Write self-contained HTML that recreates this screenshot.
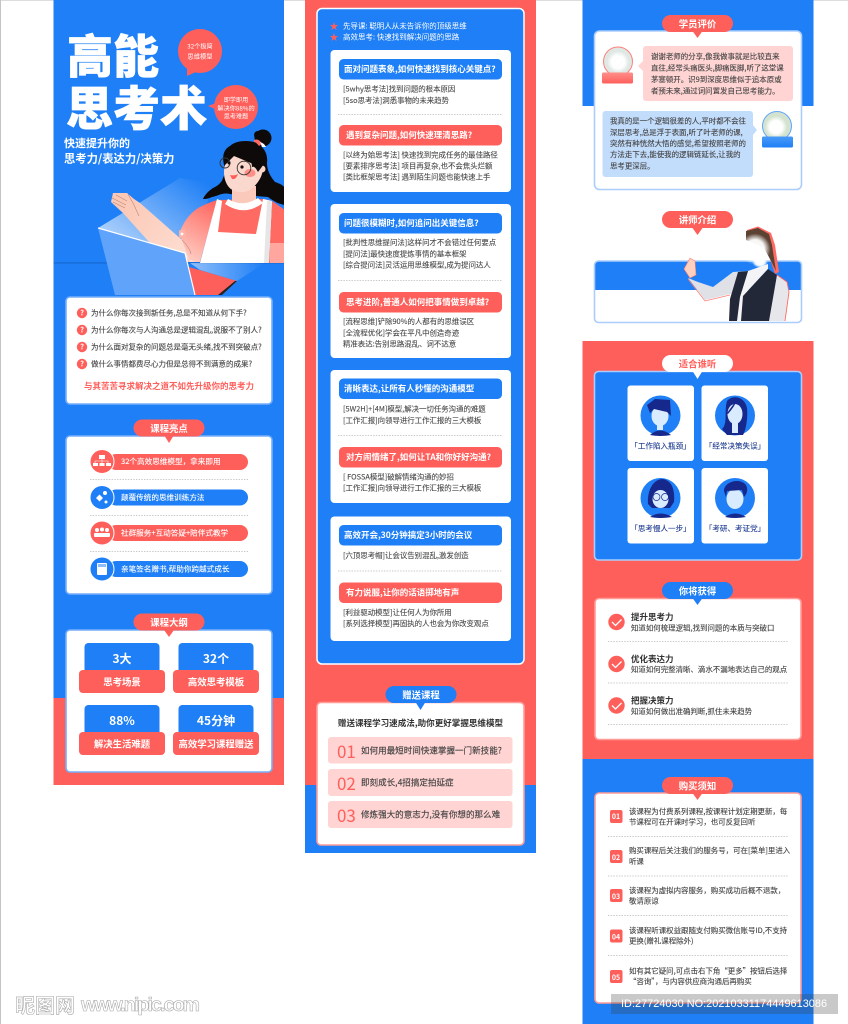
<!DOCTYPE html>
<html lang="zh"><head><meta charset="utf-8"><title>高能思考术</title>
<style>
html,body{margin:0;padding:0;background:#fff;width:848px;height:1024px;overflow:hidden}
svg{display:block}
text{font-family:"Noto Sans CJK SC","Liberation Sans",sans-serif;dominant-baseline:central}
.w{fill:#fff}.b{font-weight:700}.m{text-anchor:middle}
.q{font-size:7.5px;fill:#444;stroke:#444;stroke-width:.12}
.l{font-size:7.42px;fill:#484848;stroke:#484848;stroke-width:.1}
.h{font-size:8.5px;fill:#fff;font-weight:700}
.p{font-size:9.4px;fill:#fff;font-weight:700;text-anchor:middle}
.r{font-size:7.6px;fill:#fff;stroke:#fff;stroke-width:.12}
.s{font-size:9.4px;fill:#fff;font-weight:700;text-anchor:middle}
.n{font-size:12px;fill:#fff;font-weight:700;text-anchor:middle}
.t{font-size:7.45px;fill:#444;stroke:#444;stroke-width:.12}
.d{stroke:#bbb;stroke-width:.7;stroke-dasharray:1.5 1.2;fill:none}
.c{font-size:7.55px;fill:#1b3a8f;text-anchor:middle;stroke:#1b3a8f;stroke-width:.1}
.y{font-size:17px;fill:#ff5f5b}
.g{font-size:8.55px;fill:#444;stroke:#444;stroke-width:.14}
.card{fill:#fff;stroke:#76aff9;stroke-width:1.6}
.card2{fill:#fff;stroke:#ff9c98;stroke-width:1.6}
.cardb{fill:#fff;stroke:#aacdfc;stroke-width:1.6}
.tile{fill:#fff}
.nv{fill:#16288c}.fc{fill:#d8ebff}
</style></head><body>
<svg width="848" height="1024" viewBox="0 0 848 1024" xmlns="http://www.w3.org/2000/svg">
<defs>
<linearGradient id="beam" gradientUnits="userSpaceOnUse" x1="130" y1="250" x2="190" y2="170"><stop offset="0" stop-color="#fff" stop-opacity=".62"/><stop offset="1" stop-color="#fff" stop-opacity="0"/></linearGradient>
<linearGradient id="beam2" x1="0" y1="0" x2="1" y2="0"><stop offset="0" stop-color="#fff" stop-opacity=".5"/><stop offset="1" stop-color="#fff" stop-opacity="0"/></linearGradient>
<linearGradient id="arm" gradientUnits="userSpaceOnUse" x1="215" y1="205" x2="185" y2="255"><stop offset="0" stop-color="#ff6a63"/><stop offset="1" stop-color="#ffc9bf"/></linearGradient>
<linearGradient id="skin" gradientUnits="userSpaceOnUse" x1="125" y1="200" x2="195" y2="262"><stop offset="0" stop-color="#fcc8b6"/><stop offset="1" stop-color="#fde0d5"/></linearGradient>
<linearGradient id="rg" x1="0" y1="0" x2="0" y2="1"><stop offset="0" stop-color="#ff8f8b"/><stop offset="1" stop-color="#ff5f5b"/></linearGradient>
<linearGradient id="bg" x1="0" y1="0" x2="0" y2="1"><stop offset="0" stop-color="#4a9af8"/><stop offset="1" stop-color="#1e7ff6"/></linearGradient>
<radialGradient id="blur"><stop offset="0" stop-color="#fff"/><stop offset=".6" stop-color="#fff" stop-opacity=".95"/><stop offset="1" stop-color="#fff" stop-opacity="0"/></radialGradient>
<clipPath id="c1"><rect x="53" y="0" width="231" height="296"/></clipPath>
</defs>

<rect x="0" y="0" width="848" height="1" fill="#ddd"/>
<rect x="0" y="0" width="1" height="1024" fill="#c4c4c4"/>

<!-- ============ COLUMN 1 ============ -->
<rect x="53.5" y="0" width="230.5" height="698" fill="#1e7ff6"/>
<rect x="53.5" y="698" width="230.5" height="87" fill="#ff5f5b"/>
<rect x="53.5" y="262.5" width="230.5" height=".9" fill="#1462c4"/>

<text x="67" y="54" class="w b" style="font-size:46px;font-weight:900" stroke="#fff" stroke-width=".7">高能</text>
<text x="66" y="105" class="w b" style="font-size:47px;font-weight:900" stroke="#fff" stroke-width=".7">思考术</text>

<circle cx="200" cy="51" r="22" fill="#ff5f5b"/><path d="M187 66L187 76L198 71Z" fill="#ff5f5b"/>
<text x="200" y="46" class="w m" style="font-size:6.2px">32个极简</text>
<text x="200" y="56" class="w m" style="font-size:6.3px">思维模型</text>
<circle cx="236" cy="107" r="22" fill="#ff5f5b"/><path d="M216 103L208 106L217 110Z" fill="#ff5f5b"/>
<text x="236" y="99.5" class="w m" style="font-size:6.1px">即学即用</text>
<text x="236" y="108" class="w m" style="font-size:6.2px">解决你88%的</text>
<text x="236" y="116" class="w m" style="font-size:6.1px">思考难题</text>

<text x="64" y="143" class="w b" style="font-size:11px">快速提升你的</text>
<text x="64" y="158.5" class="w b" style="font-size:11.3px">思考力/表达力/决策力</text>

<g clip-path="url(#c1)">
<polygon points="98,228 180,178 213,183 190,262" fill="url(#beam)"/>
<polygon points="190,263 265,263 237,281 200,270" fill="url(#beam2)"/>
<!-- hair back -->
<path d="M225 168C222 160 222 150 230 146C236 140 250 140 257 143C265 148 268 155 267 163C267 170 270 176 275 182C281 184 285 186 285 190V205C278 204 272 200 268 197L230 194C222 192 218 196 212 197C208 199 205 199 203 199C205 194 210 190 213 188C218 186 222 182 223 178C225 174 226 171 225 168Z" fill="#0e0a0a"/>
<circle cx="263" cy="138" r="8.5" fill="#0e0a0a"/><circle cx="258" cy="135" r="4" fill="#0e0a0a"/>
<path d="M254 140Q259 138 262 144L259 146Q256 142 254 142Z" fill="#ff6a63"/>
<path d="M260 142Q264 143 266 147L262 147Z" fill="#fff"/>
<!-- right arm -->
<path d="M272 201L285 210V263H269Z" fill="#ff6a63"/><rect x="270" y="243" width="15" height="20" fill="#ffa79f"/>
<!-- torso -->
<path d="M217 200L264 199L272 201L269 263H200Z" fill="#ff6a63"/>
<path d="M217 200C205 204 197 208 193 212C186 218 182 226 180 232L186 262H200Z" fill="url(#arm)"/>
<!-- neck / collar -->
<path d="M232 186H256V204Q244 210 232 204Z" fill="#fbc9bc"/>
<path d="M228 199Q243 208 258 198L263 203Q244 217 225 204Z" fill="#fff"/>
<!-- apron -->
<path d="M200 263L217 199L222 201L218 232L256 234L263 199L272 201L269 263Z" fill="#fff"/>
<path d="M267 201L272 201L269 263H264Z" fill="#e6e6e6"/>
<!-- face -->
<path d="M225 165L234 156L258 166L263 167C263 176 258 184 250 190C242 194 232 192 228 186C224 180 223 172 225 165Z" fill="#fbd8ce"/>
<circle cx="262" cy="169" r="3.5" fill="#fbd4ca"/>
<path d="M224 162C226 150 238 144 250 146C260 148 266 156 264 164L258 172C256 168 254 166 252 167C252 160 248 156 242 154C236 152 228 158 224 166Z" fill="#0e0a0a"/>
<ellipse cx="250" cy="173" rx="5.5" ry="4" fill="#ff8f86"/>
<circle cx="244" cy="168" r="6.8" fill="none" stroke="#333" stroke-width=".9"/>
<circle cx="225" cy="163" r="5" fill="none" stroke="#333" stroke-width=".9"/>
<circle cx="242" cy="167" r="1.6" fill="#111"/><circle cx="229" cy="163" r="1.5" fill="#111"/>
<path d="M230 175Q235 176 238 174Q236 180 232 179Z" fill="#ff5f5b"/>
<!-- hand + forearm -->
<path d="M111 202L113 193L127 193L134 199L140 203L182 240L190 262H195L150 243L123 213Z" fill="url(#skin)"/>
<path d="M112 198L126 205M113 202L125 208M116 195L127 201M128 194L134 205L139 216" stroke="#a87464" stroke-width=".5" fill="none"/>
<rect x="179" y="230" width="6" height="8" rx="1.5" fill="#ffb3a8"/><circle cx="182" cy="234" r="1.4" fill="#fff"/>
<path d="M182 240Q190 248 191 254" stroke="#a87464" stroke-width=".5" fill="none"/>
<!-- keyboard -->
<polygon points="189,267 237,281 222,295 194,295" fill="#ff5f5b"/>
<path d="M237 281L222 295H218L235 281Z" fill="#222"/>
<!-- laptop -->
<polygon points="98,228 185,253 195,295 115,295" fill="#5fa3fb"/>
<path d="M98 228L185 253L195 295" fill="none" stroke="#fff" stroke-width="1.2"/>
</g>

<!-- card 1 -->
<rect x="66" y="297" width="206" height="107" rx="4" class="card"/>
<g fill="#ff5f5b"><circle cx="82" cy="313" r="5.2"/><circle cx="82" cy="330" r="5.2"/><circle cx="82" cy="347" r="5.2"/><circle cx="82" cy="364" r="5.2"/></g>
<g class="w b" style="font-size:7.5px" text-anchor="middle"><text x="82" y="313">?</text><text x="82" y="330">?</text><text x="82" y="347">?</text><text x="82" y="364">?</text></g>
<text x="91" y="313" class="q">为什么你每次接到新任务,总是不知道从何下手?</text>
<text x="91" y="330" class="q">为什么你每次与人沟通总是逻辑混乱,说服不了别人?</text>
<text x="91" y="347" class="q">为什么面对复杂的问题总是毫无头绪,找不到突破点?</text>
<text x="91" y="364" class="q">做什么事情都费尽心力但是总得不到满意的成果?</text>
<text x="169" y="386" class="m b" style="font-size:8.5px;fill:#ff5f5b">与其苦苦寻求解决之道不如先升级你的思考力</text>

<!-- card 2 -->
<rect x="66" y="436" width="206" height="158" rx="4" class="card"/>
<path d="M164 435L174 435L169 443Z" fill="#ff5f5b"/><rect x="133.5" y="419.5" width="71" height="17" rx="8.5" fill="#ff5f5b"/>
<text x="169" y="428" class="p">课程亮点</text>
<rect x="108" y="454" width="140" height="16" rx="8" fill="#ff5f5b"/>
<rect x="108" y="489.5" width="140" height="16" rx="8" fill="#1e7ff6"/>
<rect x="108" y="525" width="140" height="16" rx="8" fill="#ff5f5b"/>
<rect x="108" y="561" width="140" height="16" rx="8" fill="#1e7ff6"/>
<circle cx="102" cy="461.5" r="12" fill="#ff5f5b" stroke="#fff" stroke-width="1"/>
<circle cx="102" cy="497.5" r="12" fill="#1e7ff6" stroke="#fff" stroke-width="1"/>
<circle cx="102" cy="533" r="12" fill="#ff5f5b" stroke="#fff" stroke-width="1"/>
<circle cx="102" cy="569" r="12" fill="#1e7ff6" stroke="#fff" stroke-width="1"/>
<g fill="#fff">
<rect x="99" y="455" width="6" height="4"/><rect x="93" y="463" width="5" height="3"/><rect x="99.5" y="463" width="5" height="3"/><rect x="106" y="463" width="5" height="3"/>
<path d="M96 498l3.5-3.5 3.5 3.5-3.5 3.5z"/><circle cx="105" cy="493" r="2"/><circle cx="106" cy="502" r="1.5"/>
<circle cx="97" cy="530" r="2"/><circle cx="102" cy="529.5" r="2"/><circle cx="107" cy="530" r="2"/><rect x="94" y="533" width="16" height="4" rx="1"/>
<rect x="97" y="563" width="10" height="12" rx="1"/>
</g>
<path d="M102 459V463M95 463V461H108V463" stroke="#fff" stroke-width=".6" fill="none"/>
<rect x="98" y="564" width="8" height="3" fill="#8fbdfa"/>
<text x="121" y="461.5" class="r">32个高效思维模型，拿来即用</text>
<text x="121" y="497.5" class="r">颠覆传统的思维训练方法</text>
<text x="121" y="533" class="r">社群服务+互动答疑+陪伴式教学</text>
<text x="121" y="569" class="r">亲笔签名赠书,帮助你跨越式成长</text>
<path d="M90 479.5H248M90 515.5H248M90 551.5H248" class="d"/>

<!-- card 3 -->
<rect x="66" y="630" width="206" height="142" rx="4" class="card"/>
<path d="M164 630L174 630L169 637Z" fill="#ff5f5b"/><rect x="133.5" y="613.5" width="71" height="17" rx="8.5" fill="#ff5f5b"/>
<text x="169" y="622" class="p">课程大纲</text>
<g fill="#1e7ff6"><rect x="84.5" y="643" width="75" height="32" rx="4"/><rect x="178.5" y="643" width="75" height="32" rx="4"/><rect x="84.5" y="705" width="75" height="32" rx="4"/><rect x="178.5" y="705" width="75" height="32" rx="4"/></g>
<g fill="#ff5f5b"><rect x="79" y="670" width="86" height="23" rx="4"/><rect x="173" y="670" width="86" height="23" rx="4"/><rect x="79" y="732" width="86" height="23" rx="4"/><rect x="173" y="732" width="86" height="23" rx="4"/></g>
<text x="122" y="658.5" class="n">3大</text><text x="216" y="658.5" class="n">32个</text>
<text x="122" y="720.5" class="n">88%</text><text x="216" y="720.5" class="n">45分钟</text>
<text x="122" y="681.5" class="s">思考场景</text><text x="216" y="681.5" class="s">高效思考模板</text>
<text x="122" y="743.5" class="s">解决生活难题</text><text x="216" y="743.5" class="s">高效学习课程赠送</text>

<!-- ============ COLUMN 2 ============ -->
<rect x="305" y="0" width="231" height="785" fill="#ff5f5b"/>
<rect x="305" y="785" width="231" height="68" fill="#1e7ff6"/>
<rect x="317" y="8.5" width="207" height="655.5" rx="5" fill="#1e7ff6" stroke="#fff" stroke-width="1.5"/>
<text x="334" y="26" class="m" style="font-size:9px;fill:#ff5f5b">★</text>
<text x="334" y="37" class="m" style="font-size:9px;fill:#ff5f5b">★</text>
<text x="343" y="26" class="w" style="font-size:7.5px">先导课: 聪明人从未告诉你的顶级思维</text>
<text x="343" y="37" class="w" style="font-size:7.5px">高效思考: 快速找到解决问题的思路</text>

<g fill="#fff"><rect x="330.5" y="50" width="180.5" height="142" rx="4"/><rect x="330.5" y="204" width="180.5" height="154" rx="4"/><rect x="330.5" y="370" width="180.5" height="133" rx="4"/><rect x="330.5" y="516.5" width="180.5" height="124.5" rx="4"/></g>
<g fill="#1e7ff6"><rect x="339" y="59" width="163" height="20.5" rx="4.5"/><rect x="339" y="213" width="163" height="20.5" rx="4.5"/><rect x="339" y="378.5" width="163" height="20.5" rx="4.5"/><rect x="339" y="525" width="163" height="20.5" rx="4.5"/></g>
<g fill="#ff5f5b"><rect x="339" y="125" width="163" height="20.5" rx="4.5"/><rect x="339" y="292" width="163" height="20.5" rx="4.5"/><rect x="339" y="447" width="163" height="20.5" rx="4.5"/><rect x="339" y="582.5" width="163" height="20.5" rx="4.5"/></g>
<path d="M338 114.5H502M338 280.5H502M338 435.5H502M338 571H502" class="d"/>

<text x="344" y="69" class="h">面对问题表象,如何快速找到核心关键点?</text>
<text x="343" y="89" class="l">[5why思考法]找到问题的根本原因</text>
<text x="343" y="100.5" class="l">[5so思考法]洞悉事物的未来趋势</text>
<text x="346" y="135" class="h">遇到复杂问题,如何快速理清思路?</text>
<text x="343" y="155" class="l">[以终为始思考法] 快速找到完成任务的最佳路径</text>
<text x="343" y="166" class="l">[要素排序思考法] 项目再复杂,也不会焦头烂额</text>
<text x="343" y="177" class="l">[类比框架思考法] 遇到陌生问题也能快速上手</text>

<text x="344" y="223" class="h">问题很模糊时,如何追问出关键信息?</text>
<text x="343" y="242.5" class="l">[批判性思维提问法]这样问才不会错过任何要点</text>
<text x="343" y="254" class="l">[提问法]最快速度提炼事情的基本框架</text>
<text x="343" y="265" class="l">[综合提问法]灵活运用思维模型,成为提问达人</text>
<text x="346" y="302" class="h">思考进阶,普通人如何把事情做到卓越?</text>
<text x="343" y="321.5" class="l">[流程思维]铲除90%的人都有的思维误区</text>
<text x="343" y="333" class="l">[全流程优化]学会在平凡中创造奇迹</text>
<text x="343" y="344" class="l">精准表达:告别思路混乱、词不达意</text>

<text x="344" y="388.5" class="h">清晰表达,让所有人秒懂的沟通模型</text>
<text x="343" y="409" class="l">[5W2H]+[4M]模型,解决一切任务沟通的难题</text>
<text x="343" y="420.5" class="l">[工作汇报]向领导进行工作汇报的三大模板</text>
<text x="346" y="457" class="h">对方闹情绪了,如何让TA和你好好沟通?</text>
<text x="343" y="477" class="l">[ FOSSA模型]破解情绪沟通的妙招</text>
<text x="343" y="488" class="l">[工作汇报]向领导进行工作汇报的三大模板</text>

<text x="344" y="535" class="h">高效开会,30分钟搞定3小时的会议</text>
<text x="343" y="555.5" class="l">[六顶思考帽]让会议告别混乱,激发创造</text>
<text x="346" y="592.5" class="h">有力说服,让你的话语掷地有声</text>
<text x="343" y="612.5" class="l">[利益驱动模型]让任何人为你所用</text>
<text x="343" y="623.5" class="l">[系列选择模型]再固执的人也会为你改变观点</text>

<!-- gift -->
<rect x="317" y="702.5" width="207" height="142.5" rx="4" class="card2"/>
<path d="M415.5 702L425.5 702L420.5 710Z" fill="#1e7ff6"/><rect x="385.5" y="686" width="71" height="17" rx="8.5" fill="#1e7ff6"/>
<text x="421" y="694.5" class="p">赠送课程</text>
<text x="420.5" y="723" class="m b" style="font-size:8.55px;fill:#333">赠送课程学习速成法,助你更好掌握思维模型</text>
<g fill="#ffd4d3"><rect x="328" y="737" width="184.5" height="26.5" rx="3"/><rect x="328" y="769" width="184.5" height="27" rx="3"/><rect x="328" y="801" width="184.5" height="27" rx="3"/></g>
<text x="337" y="750.5" class="y">01</text><text x="337" y="782.5" class="y">02</text><text x="337" y="814.5" class="y">03</text>
<text x="361" y="750.5" class="g">如何用最短时间快速掌握一门新技能?</text>
<text x="361" y="782.5" class="g">即刻成长,4招搞定拍延症</text>
<text x="361" y="814.5" class="g">修炼强大的意志力,没有你想的那么难</text>

<!-- ============ COLUMN 3 ============ -->
<rect x="582.5" y="0" width="231" height="106" fill="#1e7ff6"/>
<rect x="582.5" y="341" width="231" height="418" fill="#ff5f5b"/>
<rect x="582.5" y="759" width="231" height="265" fill="#1e7ff6"/>

<!-- reviews -->
<rect x="594.5" y="31" width="207" height="158.5" rx="5" class="cardb"/>
<path d="M692.5 31L702.5 31L697.5 38Z" fill="#ff5f5b"/><rect x="662" y="15" width="71" height="17" rx="8.5" fill="#ff5f5b"/>
<text x="697.5" y="23.5" class="p">学员评价</text>
<circle cx="618" cy="61.5" r="14.5" fill="#dfe8e4" stroke="#ff7f7a" stroke-width="1"/>
<circle cx="618" cy="62" r="11" fill="url(#blur)"/>
<rect x="602" y="72.5" width="31" height="11" rx="1.5" fill="url(#rg)"/>
<rect x="643" y="46" width="150" height="55" rx="3" fill="#ffd4d3"/><path d="M643 61L638 66L643 71Z" fill="#ffd4d3"/>
<text x="651" y="56.5" class="t">谢谢老师的分享,像我做事就是比较直来</text>
<text x="651" y="68" class="t">直往,经常头痛医头,脚痛医脚,听了这堂课</text>
<text x="651" y="79.5" class="t">茅塞顿开。识9到深度思维似于追本原或</text>
<text x="651" y="91" class="t">者预未来,通过词问置发自己思考能力。</text>
<rect x="602.5" y="111" width="150.5" height="66" rx="3" fill="#c2dcfc"/><path d="M753 125L757 130L753 135Z" fill="#c2dcfc"/>
<text x="610" y="121" class="t">我真的是一个逻辑很差的人,平时都不会往</text>
<text x="610" y="132.5" class="t">深层思考,总是浮于表面,听了叶老师的课,</text>
<text x="610" y="143.5" class="t">突然有种恍然大悟的感觉,希望按照老师的</text>
<text x="610" y="154.5" class="t">方法走下去,能使我的逻辑链延长,让我的</text>
<text x="610" y="166" class="t">思考更深层。</text>
<circle cx="777" cy="126" r="14.5" fill="#d3e3cf" stroke="#60a5fa" stroke-width="1"/>
<circle cx="776" cy="127" r="11" fill="url(#blur)"/>
<rect x="762" y="136.5" width="31" height="11" rx="1.5" fill="url(#bg)"/>

<!-- teacher -->
<rect x="594.5" y="261" width="207" height="61.5" rx="4" fill="#fff"/>
<path d="M594.5 290V265a4 4 0 0 1 4-4H797.5a4 4 0 0 1 4 4V290Z" fill="#1e7ff6"/>
<rect x="594.5" y="261" width="207" height="61.5" rx="4" fill="none" stroke="#aacdfc" stroke-width="1.6"/>
<path d="M692.5 228L702.5 228L697.5 235Z" fill="#ff5f5b"/><rect x="662" y="211" width="71" height="17" rx="8.5" fill="#ff5f5b"/>
<text x="697.5" y="219.5" class="p">讲师介绍</text>
<!-- hair -->
<path d="M747 230L758 226.5L771 233L775 245L779 272L775 274L770 259L765 245L748 240Z" fill="#ff6a63"/>
<path d="M746 231L758 228L769 234L772 245L776 271L770 259L764 248L746 240Z" fill="#5c4233"/>
<!-- body -->
<path d="M684 269L690 258L695 261L696 275L690 278Z" fill="#fbd0bf" stroke="#ff7a73" stroke-width=".6"/>
<path d="M688 278L698 282L713 287L733 272L748 271L738 295L730 294L705 300Z" fill="#dfe1e7"/>
<path d="M688 279L705 301L730 295" fill="none" stroke="#ff7a73" stroke-width=".7"/>
<polygon points="748,271 768,264 768,269 743,296 741,321 737,321 740,297" fill="#f4f4f7"/>
<polygon points="738,272 748,271 740,297 737,321 729,321 730,299" fill="#232838"/>
<polygon points="768,269 777,275 770,321 741,321 743,296" fill="#232838"/>
<path d="M777 275L787 282L789 292L785 321H769Z" fill="#e7e7eb"/>
<path d="M777 275L787 282L789 292L785 321" fill="none" stroke="#ff6a63" stroke-width=".9"/>
<circle cx="755" cy="249" r="15.5" fill="url(#blur)"/>
<ellipse cx="760" cy="262" rx="8" ry="6" fill="url(#blur)"/>

<!-- who -->
<rect x="594.5" y="371.5" width="207" height="188.5" rx="4" fill="#1e7ff6" stroke="#aacdfc" stroke-width="1.6"/>
<path d="M692.5 371L702.5 371L697.5 379Z" fill="#fff"/><rect x="662" y="355" width="71" height="17" rx="8.5" fill="#fff"/>
<text x="697.5" y="363.5" class="p" style="fill:#ff5f5b">适合谁听</text>
<rect x="627.5" y="385.5" width="66.5" height="75.5" rx="3" class="tile"/>
<rect x="701.5" y="385.5" width="66.5" height="75.5" rx="3" class="tile"/>
<rect x="627.5" y="468" width="66.5" height="75.5" rx="3" class="tile"/>
<rect x="701.5" y="468" width="66.5" height="75.5" rx="3" class="tile"/>
<g fill="#1e7ff6"><circle cx="660.5" cy="415.5" r="20"/><circle cx="735" cy="415.5" r="20"/><circle cx="660.5" cy="498" r="20"/><circle cx="735" cy="498" r="20"/></g>
<!-- avatar 1 -->
<path d="M650 435Q660 426 671 435Q666 436 660.5 436Q655 436 650 435Z" class="nv"/>
<ellipse cx="660" cy="416" rx="8.5" ry="10" class="fc"/><rect x="657" y="424" width="6" height="6" class="fc"/>
<path d="M647 405L655 399L670 400L671 416L667 412L654 409L650 413Z" class="nv"/>
<!-- avatar 2 -->
<path d="M727 401C733 394 745 397 747 408C748 418 746 430 743 435H727L722 429C728 424 724 410 727 401Z" class="nv"/>
<ellipse cx="735" cy="414" rx="7.5" ry="10" class="fc"/><rect x="732" y="422" width="6" height="11" class="fc"/>
<path d="M727 413Q732 406 737 400Q735 406 728 414Z" class="nv"/>
<!-- avatar 3 -->
<path d="M648 504C647 492 652 480 662 479C672 480 675 490 674 502L670 508H652Z" class="nv"/>
<ellipse cx="660.5" cy="499" rx="8" ry="9" class="fc"/>
<path d="M650 517Q660.5 510 672 517Q666 518 660.5 518Q655 518 650 517Z" class="nv"/>
<path d="M652 492Q660 486 670 494L670 484L654 484Z" class="nv"/>
<circle cx="656.5" cy="497" r="3.5" fill="none" stroke="#16288c" stroke-width=".7"/><circle cx="665" cy="497" r="3.5" fill="none" stroke="#16288c" stroke-width=".7"/>
<!-- avatar 4 -->
<path d="M725 517Q735 510 746 517Q740 518 735 518Q730 518 725 517Z" class="nv"/>
<ellipse cx="735" cy="499" rx="8.5" ry="10" class="fc"/>
<path d="M724 491C724 483 735 479 742 482C748 484 749 492 744 497L742 490L727 491L726 497Z" class="nv"/>
<text x="660.5" y="446" class="c">「工作陷入瓶颈」</text>
<text x="735" y="446" class="c">「经常决策失误」</text>
<text x="660.5" y="528.5" class="c">「思考慢人一步」</text>
<text x="735" y="528.5" class="c">「考研、考证党」</text>

<!-- gain -->
<rect x="595" y="598.5" width="206" height="141" rx="4" class="card2"/>
<path d="M692.5 598L702.5 598L697.5 605Z" fill="#1e7ff6"/><rect x="662" y="582" width="71" height="17" rx="8.5" fill="#1e7ff6"/>
<text x="697.5" y="590.5" class="p">你将获得</text>
<g fill="#ff5f5b"><circle cx="616.5" cy="622" r="8.2"/><circle cx="616.5" cy="664" r="8.2"/><circle cx="616.5" cy="705.5" r="8.2"/></g>
<g fill="none" stroke="#fff" stroke-width="1.3"><path d="M612 622l3.5 3.5 6-6"/><path d="M612 664l3.5 3.5 6-6"/><path d="M612 705.5l3.5 3.5 6-6"/></g>
<text x="631" y="617" class="b" style="font-size:8.5px;fill:#333">提升思考力</text>
<text x="631" y="628" class="t">知道如何梳理逻辑,找到问题的本质与突破口</text>
<text x="631" y="659" class="b" style="font-size:8.5px;fill:#333">优化表达力</text>
<text x="631" y="669.5" class="t">知道如何完整清晰、滴水不漏地表达自己的观点</text>
<text x="631" y="700.5" class="b" style="font-size:8.5px;fill:#333">把握决策力</text>
<text x="631" y="711.5" class="t">知道如何做出准确判断,抓住未来趋势</text>
<path d="M608 641.5H788M608 683H788M608 724.5H788" class="d"/>

<!-- notice -->
<rect x="595" y="793" width="206" height="210" rx="4" class="card2"/>
<path d="M692.5 793L702.5 793L697.5 800Z" fill="#ff5f5b"/><rect x="662" y="777" width="71" height="17" rx="8.5" fill="#ff5f5b"/>
<text x="697.5" y="785.5" class="p">购买须知</text>
<g fill="#ff5f5b"><rect x="610" y="810" width="12.5" height="13" rx="2"/><rect x="610" y="850" width="12.5" height="13" rx="2"/><rect x="610" y="889" width="12.5" height="13" rx="2"/><rect x="610" y="929.5" width="12.5" height="13" rx="2"/><rect x="610" y="970" width="12.5" height="13" rx="2"/></g>
<g class="w b" style="font-size:7px" text-anchor="middle"><text x="616" y="817">01</text><text x="616" y="858">02</text><text x="616" y="897">03</text><text x="616" y="937.5">04</text><text x="616" y="978">05</text></g>
<text x="629" y="811.5" class="t">该课程为付费系列课程,按课程计划定期更新，每</text>
<text x="629" y="822" class="t">节课程可在开课时学习，也可反复回听</text>
<text x="629" y="850.5" class="t">购买课程后关注我们的服务号，可在[菜单]里进入</text>
<text x="629" y="861.5" class="t">听课</text>
<text x="629" y="890.5" class="t">该课程为虚拟内容服务，购买成功后概不退款，</text>
<text x="629" y="901" class="t">敬请原谅</text>
<text x="629" y="930.5" class="t">该课程听课权益跟随支付购买微信账号ID,不支持</text>
<text x="629" y="941" class="t">更换(赠礼课程除外)</text>
<text x="629" y="971" class="t">如有其它疑问,可点击右下角“更多”按钮后选择</text>
<text x="629" y="981.5" class="t">“咨询”，与内容供应商沟通后再购买</text>
<path d="M608 836.5H788M608 876H788M608 915.5H788M608 955.5H788" class="d"/>

<!-- watermarks -->
<rect x="611" y="994" width="227" height="20" fill="#3c3c3c" fill-opacity=".28"/>
<text x="621" y="1004" textLength="206" style="font-family:'Liberation Sans',sans-serif;font-size:10.9px;fill:#fff">ID:27724030 NO:20210331174449613086</text>
<text x="15" y="1004" style="font-size:20px;fill:#fff;stroke:#aaa;stroke-width:.6;font-weight:700">昵图网</text>
<text x="81" y="1005" textLength="119" style="font-family:'Liberation Sans',sans-serif;font-size:19.5px;fill:#fff;stroke:#aaa;stroke-width:.6;font-weight:700">www.nipic.com</text>
</svg>
</body></html>
